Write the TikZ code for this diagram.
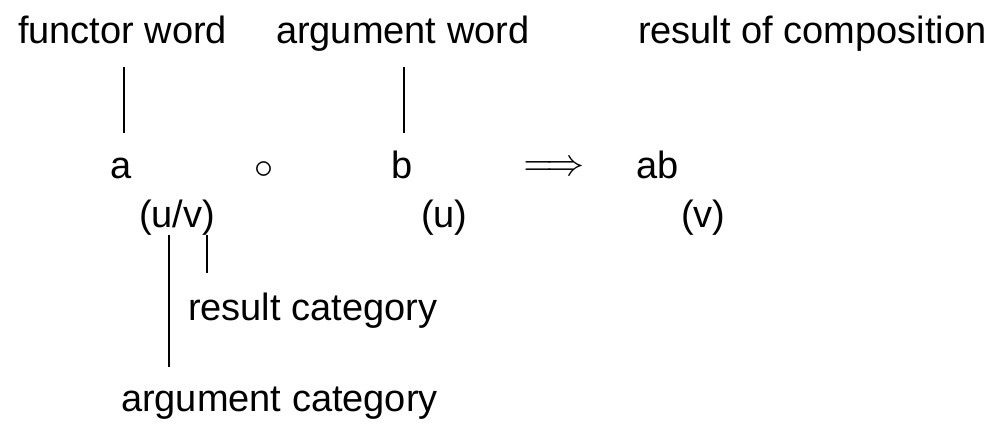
\documentclass[tikz,border=0pt]{standalone}
\usepackage{fontspec}
\setmainfont{Liberation Sans}
\begin{document}
\begin{tikzpicture}[x=1pt,y=-1pt,
  lbl/.style={anchor=base west,inner sep=0pt,outer sep=0pt,font=\fontsize{38}{46}\selectfont},
  sym/.style={anchor=center,inner sep=0pt,outer sep=0pt},
  thickline/.style={line width=2.6pt},
  thinline/.style={line width=1.7pt}]
\useasboundingbox (0,0) rectangle (997,424);
% top labels
\node[lbl] (fw) at (18,43) {functor word};
\node[lbl] (aw) at (276,43) {argument word};
\node[lbl] (rc) at (638,43) {result of composition};
% main row
\node[lbl] (a) at (110,178) {a};
\node[sym] (comp) at (263.5,170) {\scalebox{3.8}{$\circ$}};
\node[lbl] (b) at (391,178) {b};
\node[sym] (impl) at (554,169) {\scalebox{3.8}{$\Longrightarrow$}};
\node[lbl] (ab) at (636,178) {ab};
% categories
\node[lbl] (cuv) at (139,227) {(u/v)};
\node[lbl] (cu) at (421,227) {(u)};
\node[lbl] (cv) at (681,227) {(v)};
% bottom labels
\node[lbl] (rescat) at (188,320) {result category};
\node[lbl] (argcat) at (121,411) {argument category};
% connector ends
\coordinate (fwtop) at (124,67);
\coordinate (fwbot) at (124,133);
\coordinate (awtop) at (404,67);
\coordinate (awbot) at (404,133);
\coordinate (uvarg) at (169,235);
\coordinate (argcatend) at (169,367);
\coordinate (uvres) at (207,235);
\coordinate (rescatend) at (207,273);
\draw[thickline] (fwtop) -- (fwbot);
\draw[thinline] (awtop) -- (awbot);
\draw[thinline] (uvarg) -- (argcatend);
\draw[thinline] (uvres) -- (rescatend);
\end{tikzpicture}
\end{document}
